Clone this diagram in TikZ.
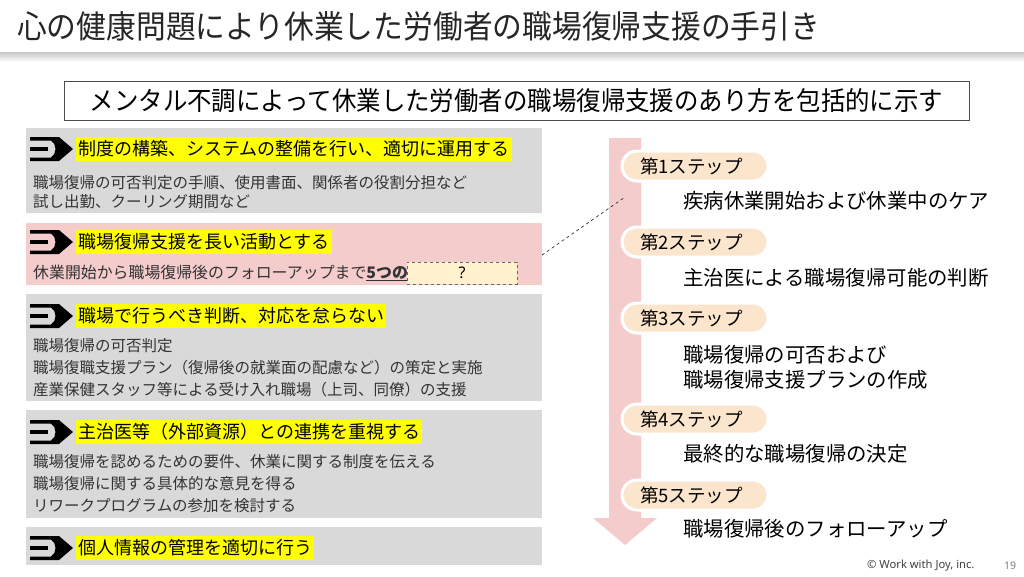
\documentclass[tikz,border=0pt]{standalone}
\usepackage{fontspec}
\setmainfont{Noto Sans CJK JP}
\newfontfamily\latinfont{Noto Sans}
\definecolor{boxgray}{HTML}{D9D9D9}
\definecolor{boxpink}{HTML}{F4CCCC}
\definecolor{hiyellow}{HTML}{FFFF00}
\definecolor{pillpeach}{HTML}{FCE5CD}
\definecolor{qfill}{HTML}{FFF2CC}
\definecolor{bodytext}{HTML}{333333}
\definecolor{titletext}{HTML}{262626}
\tikzset{
  leftbox/.style={anchor=north west, minimum width=516pt, inner sep=0pt, draw=none},
  headhl/.style={anchor=west, fill=hiyellow, inner xsep=2pt, inner ysep=2pt, text height=16.5pt, text depth=3.5pt, font=\fontsize{18}{20}\selectfont, text=black},
  bodyline/.style={anchor=west, inner sep=0pt, font=\fontsize{15.5}{18}\selectfont, text=bodytext},
  pill/.style={minimum width=146pt, minimum height=30pt, rounded corners=15pt, fill=pillpeach, draw=white, line width=3pt, inner sep=0pt},
  pilltext/.style={anchor=west, inner sep=0pt, font=\fontsize{18.5}{20}\selectfont, text=black},
  stepdesc/.style={anchor=west, inner sep=0pt, font=\fontsize{20.4}{22}\selectfont, text=black},
  pencil/.pic={
    \fill[black] (0,-12) -- (29,-12) -- (43,0) -- (29,12) -- (0,12) -- (0,8.5) -- (21,8.5)
       .. controls (27,5) and (27,-5) .. (21,-8.5) -- (0,-8.5) -- cycle;
    \fill[black] (0,-1.7) rectangle (18,1.7);
  }
}
\begin{document}
\begin{tikzpicture}[x=1pt,y=-1pt]
\useasboundingbox (0,0) rectangle (1024,576);
\fill[white] (0,0) rectangle (1024,576);
% header
\shade[top color=black!22, bottom color=white] (0,52) rectangle (1024,62);
\fill[white] (0,0) rectangle (1024,52);
\node[anchor=west, inner sep=0pt, text=titletext] (title) at (17,26)
  {\fontsize{32}{34}\selectfont\scalebox{0.93}[1]{心の健康問題により休業した労働者の職場復帰支援の手引き}};
% subtitle
\node[draw=black!70, line width=0.8pt, minimum width=905pt, minimum height=39pt, inner sep=0pt] (sub) at (516.5,100.5)
  {\fontsize{26}{28}\selectfont\scalebox{0.94}[1]{メンタル不調によって休業した労働者の職場復帰支援のあり方を包括的に示す}};

% left boxes
\node[leftbox, fill=boxgray, minimum height=85pt] (b1) at (26,128) {};
\node[leftbox, fill=boxpink, minimum height=62pt] (b2) at (26,223) {};
\node[leftbox, fill=boxgray, minimum height=107pt] (b3) at (26,294) {};
\node[leftbox, fill=boxgray, minimum height=108pt] (b4) at (26,410) {};
\node[leftbox, fill=boxgray, minimum height=38pt] (b5) at (26,527) {};

% icons
\pic at (30,149) {pencil};
\pic at (30,242) {pencil};
\pic at (30,316) {pencil};
\pic at (30,432) {pencil};
\pic at (30,548) {pencil};

% box 1
\node[headhl] (h1) at (76,149) {制度の構築、システムの整備を行い、適切に運用する};
\node[bodyline] (l11) at (33,183) {職場復帰の可否判定の手順、使用書面、関係者の役割分担など};
\node[bodyline] (l12) at (33,202) {試し出勤、クーリング期間など};
% box 2
\node[headhl] (h2) at (76,242) {職場復帰支援を長い活動とする};
\node[bodyline, font=\fontsize{15.9}{18}\selectfont] (l21) at (33,273) {休業開始から職場復帰後のフォローアップまで\textbf{\underline{5つの}}};
\node[draw=black!60, dashed, fill=qfill, minimum width=110pt, minimum height=22pt, inner sep=0pt,
      font=\latinfont\fontsize{16}{18}\selectfont] (q) at (462,273) {?};
% box 3
\node[headhl] (h3) at (76,316) {職場で行うべき判断、対応を怠らない};
\node[bodyline] (l31) at (33,346) {職場復帰の可否判定};
\node[bodyline] (l32) at (33,368) {職場復職支援プラン（復帰後の就業面の配慮など）の策定と実施};
\node[bodyline] (l33) at (33,390) {産業保健スタッフ等による受け入れ職場（上司、同僚）の支援};
% box 4
\node[headhl] (h4) at (76,432) {主治医等（外部資源）との連携を重視する};
\node[bodyline] (l41) at (33,462) {職場復帰を認めるための要件、休業に関する制度を伝える};
\node[bodyline] (l42) at (33,484) {職場復帰に関する具体的な意見を得る};
\node[bodyline] (l43) at (33,506) {リワークプログラムの参加を検討する};
% box 5
\node[headhl] (h5) at (76,548) {個人情報の管理を適切に行う};

% arrow
\fill[boxpink] (609,138) -- (641,138) -- (641,518) -- (657,518) -- (625,545) -- (593,518) -- (609,518) -- cycle;

% dashed connector
\coordinate (dA) at (542,255);
\coordinate (dB) at (625,197);
\draw[black!80, dashed, line width=0.7pt] (dA) -- (dB);

% steps
\node[pill] (p1) at (695,166) {};
\node[pill] (p2) at (695,242) {};
\node[pill] (p3) at (695,318) {};
\node[pill] (p4) at (695,419) {};
\node[pill] (p5) at (695,495) {};
\node[pilltext] (t1) at (640,166) {第1ステップ};
\node[pilltext] (t2) at (640,242) {第2ステップ};
\node[pilltext] (t3) at (640,318) {第3ステップ};
\node[pilltext] (t4) at (640,419) {第4ステップ};
\node[pilltext] (t5) at (640,495) {第5ステップ};
\node[stepdesc] (s1) at (683,201) {疾病休業開始および休業中のケア};
\node[stepdesc] (s2) at (683,278) {主治医による職場復帰可能の判断};
\node[stepdesc] (s3a) at (683,355) {職場復帰の可否および};
\node[stepdesc] (s3b) at (683,380) {職場復帰支援プランの作成};
\node[stepdesc] (s4) at (683,454) {最終的な職場復帰の決定};
\node[stepdesc] (s5) at (683,529) {職場復帰後のフォローアップ};

% footer
\node[anchor=west, inner sep=0pt, text=black!75, font=\latinfont\fontsize{11.2}{13}\selectfont] (copy) at (867,566) {© Work with Joy, inc.};
\node[anchor=west, inner sep=0pt, text=black!50, font=\latinfont\fontsize{10.5}{12}\selectfont] (pg) at (1004,566) {19};
\end{tikzpicture}
\end{document}
